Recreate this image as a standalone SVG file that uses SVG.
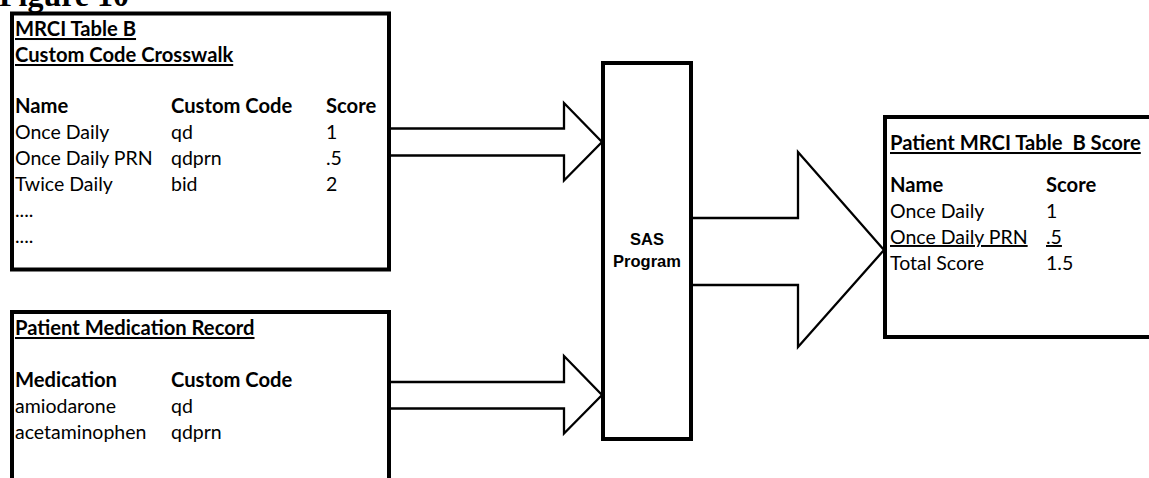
<svg xmlns="http://www.w3.org/2000/svg" width="1149" height="478" viewBox="0 0 1149 478">
<style>
.box{fill:#fff;stroke:#000;stroke-width:4}
.arr{fill:#fff;stroke:#000;stroke-width:2.3;stroke-linejoin:miter}
.t{font-family:Lato,"Liberation Sans",sans-serif;font-size:19.5px;fill:#000}
.b{font-weight:bold;font-size:20.2px}
.u{text-decoration:underline}
.sas{font-family:"Liberation Sans",Arial,sans-serif;font-weight:bold;font-size:16.5px;text-anchor:middle}
.fig{font-family:"Liberation Serif","Times New Roman",serif;font-weight:bold;font-size:32px}
</style>
<rect width="1149" height="478" fill="#fff"/>
<text class="fig" x="-1" y="6">Figure 10</text>
<g id="connectors">
<path class="arr" d="M391,128.5 H564 V103 L602,142 L564,180.5 V155.5 H391"/>
<path class="arr" d="M391,382 H564 V356 L602,395 L564,433.5 V408.5 H391"/>
<path class="arr" d="M693,218 H798 V152 L884,250 L798,347 V285 H693"/>
</g>
<g id="crosswalk">
<rect class="box" x="12" y="13.5" width="377" height="256"/>
<text class="t b u" x="15" y="36">MRCI Table B</text>
<text class="t b u" x="15" y="62">Custom Code Crosswalk</text>
<text class="t b" x="15" y="113">Name</text>
<text class="t b" x="171" y="113">Custom Code</text>
<text class="t b" x="326" y="113">Score</text>
<text class="t" x="15" y="139">Once Daily</text>
<text class="t" x="171" y="139">qd</text>
<text class="t" x="326" y="139">1</text>
<text class="t" x="15" y="165">Once Daily PRN</text>
<text class="t" x="171" y="165">qdprn</text>
<text class="t" x="326" y="165">.5</text>
<text class="t" x="15" y="191">Twice Daily</text>
<text class="t" x="171" y="191">bid</text>
<text class="t" x="326" y="191">2</text>
<text class="t" x="15" y="217">....</text>
<text class="t" x="15" y="243">....</text>
</g>
<g id="medication">
<rect class="box" x="12" y="312" width="377" height="200"/>
<text class="t b u" x="15" y="335">Patient Medication Record</text>
<text class="t b" x="15" y="387">Medication</text>
<text class="t b" x="171" y="387">Custom Code</text>
<text class="t" x="15" y="413">amiodarone</text>
<text class="t" x="171" y="413">qd</text>
<text class="t" x="15" y="439">acetaminophen</text>
<text class="t" x="171" y="439">qdprn</text>
</g>
<g id="sas">
<rect class="box" x="603" y="63" width="88" height="376"/>
<text class="sas" x="647" y="245">SAS</text>
<text class="sas" x="647" y="267">Program</text>
</g>
<g id="score">
<rect class="box" x="885" y="117" width="300" height="220"/>
<text class="t b u" x="890" y="150" xml:space="preserve">Patient MRCI Table  B Score</text>
<text class="t b" x="890" y="192">Name</text>
<text class="t b" x="1046" y="192">Score</text>
<text class="t" x="890" y="218">Once Daily</text>
<text class="t" x="1046" y="218">1</text>
<text class="t u" x="890" y="244">Once Daily PRN</text>
<text class="t u" x="1046" y="244">.5</text>
<text class="t" x="890" y="270">Total Score</text>
<text class="t" x="1046" y="270">1.5</text>
</g>
</svg>
